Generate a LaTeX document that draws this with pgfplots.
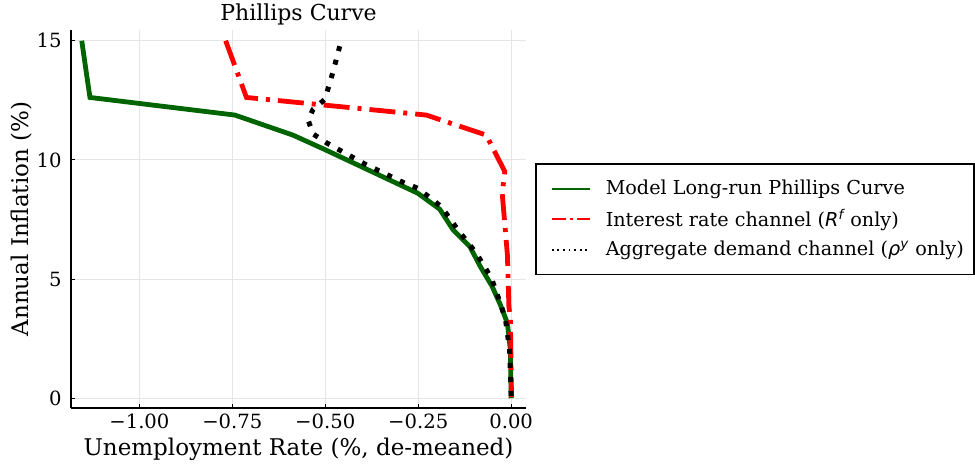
\documentclass[border=0pt]{standalone}
\usepackage{fontspec}
\setmainfont{DejaVu Serif}
\newfontfamily\dvs{DejaVu Sans}
\usepackage{pgfplots}
\pgfplotsset{compat=1.18}
\definecolor{dkgreen}{RGB}{0,100,0}
\begin{document}
\begin{tikzpicture}
\useasboundingbox (-35.5pt,-29.5pt) rectangle (452pt,204pt);
\begin{axis}[
 at={(0,0)}, anchor=south west, scale only axis, width=227.5pt, height=189pt,
 xmin=-1.184, xmax=0.04, ymin=-0.41, ymax=15.45,
 axis lines*=left, axis line style={-, line width=0.9pt},
 xtick={-1,-0.75,-0.5,-0.25,0}, xticklabels={−1.00,−0.75,−0.50,−0.25,0.00},
 ytick={0,5,10,15}, yticklabels={0,5,10,15},
 tick align=inside, major tick length=2pt, tick style={black, line width=0.5pt},
 grid=major, grid style={line width=0.5pt, black!10},
 ticklabel style={font=\fontsize{9.8}{11}\selectfont},
 xticklabel style={anchor=center, yshift=-6.7pt, inner sep=0pt},
 yticklabel style={anchor=east, xshift=-4.5pt, inner sep=0pt},
 xlabel={Unemployment Rate (\%, de-meaned)}, ylabel={Annual Inflation (\%)},
 label style={font=\fontsize{11.5}{13}\selectfont},
 xlabel style={at={(axis description cs:0.5,-0.1085)}, anchor=center},
 ylabel style={at={(axis description cs:-0.1077,0.5)}, anchor=center},
 legend cell align=left,
 legend image code/.code={\path (-4.5pt,0pt); \draw[#1] (0pt,0pt) -- (19pt,0pt); \path (24.5pt,0pt);},
 legend style={at={(axis description cs:1.0198,0.6481)}, anchor=north west,
   draw=black, line width=0.75pt, font=\fontsize{9.6}{11}\selectfont,
   inner xsep=3pt, inner ysep=6pt, row sep=1.75pt},
 clip=true,
]
\addplot[dkgreen, line width=2.4pt, forget plot] coordinates {
(-1.155,15.0) (-1.145,13.9) (-1.133,12.62) (-0.743,11.88) (-0.587,11.04)
(-0.502,10.44) (-0.356,9.37) (-0.251,8.60) (-0.192,7.93) (-0.156,7.06)
(-0.111,6.36) (-0.083,5.53) (-0.051,4.69) (-0.029,3.92) (-0.010,3.15)
(-0.002,2.03) (0.000,0.0)};
\addplot[red, line width=2.4pt, dash pattern=on 13pt off 4pt on 2pt off 4pt, forget plot] coordinates {
(-0.768,15.0) (-0.712,12.62) (-0.228,11.88) (-0.067,11.04) (-0.017,9.51)
(-0.024,8.60) (-0.010,6.0) (-0.006,3.85) (-0.002,3.29) (0.001,0.05)};
\addplot[black, line width=2.5pt, dash pattern=on 2.5pt off 4.5pt, forget plot] coordinates {
(0.000,0.1) (-0.004,2.03) (-0.015,3.29) (-0.026,3.85) (-0.053,5.04)
(-0.094,6.09) (-0.143,7.06) (-0.188,8.04) (-0.251,8.81) (-0.286,9.02)
(-0.394,9.83) (-0.497,10.72) (-0.533,11.09) (-0.546,11.67) (-0.533,12.12)
(-0.501,12.54) (-0.479,13.7) (-0.458,14.95)};
\addlegendimage{dkgreen, line width=1pt}
\addlegendentry{Model Long-run Phillips Curve}
\addlegendimage{red, line width=1pt, dash pattern=on 7pt off 2pt on 1.5pt off 2pt}
\addlegendentry{Interest rate channel ({\dvs\itshape R\textsuperscript{f}} only)}
\addlegendimage{black, line width=0.9pt, dash pattern=on 0.9pt off 1.9pt}
\addlegendentry{Aggregate demand channel ({\dvs\itshape ρ\textsuperscript{y}} only)}
\end{axis}
\node[font=\fontsize{11}{13}\selectfont, anchor=base, inner sep=0pt] at (113.75pt,193.65pt) {Phillips Curve};
\end{tikzpicture}
\end{document}
